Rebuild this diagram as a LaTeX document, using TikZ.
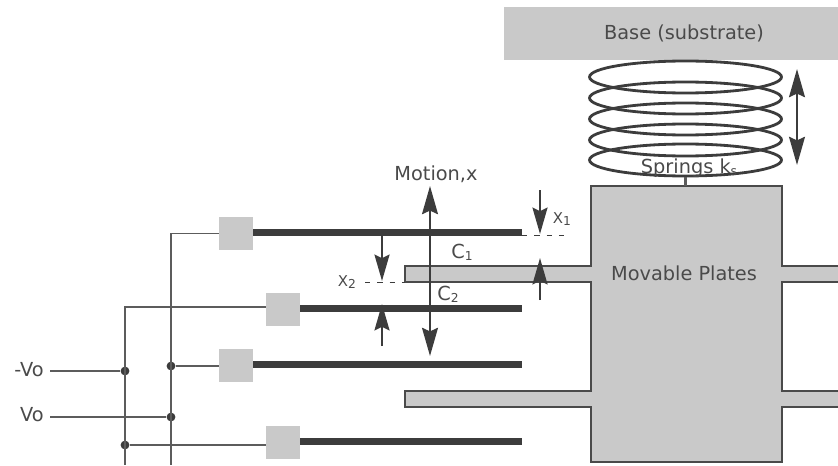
\documentclass[tikz,border=0pt]{standalone}
\usepackage{fontspec}
\setmainfont{DejaVu Sans}
\usetikzlibrary{arrows.meta,shapes.geometric}
\definecolor{ink}{HTML}{4A4A4A}
\definecolor{dark}{HTML}{3C3C3C}
\definecolor{plategray}{HTML}{C9C9C9}
\newcommand{\lowtxt}[1]{\raisebox{-.2ex}{\fontsize{7pt}{8pt}\selectfont #1}}
\tikzset{
 lbl/.style = {text = ink, inner sep = 0pt, font = \fontsize{11pt}{13pt}\selectfont},
 smalllbl/.style = {text = ink, inner sep = 0pt, font = \fontsize{8.5pt}{10pt}\selectfont},
 pad/.style = {fill = plategray, minimum width = .68cm, minimum height = .66cm, inner sep = 0pt},
 plate/.style = {color = dark, line width = 4pt},
 wire/.style = {color = ink!90, line width = .8pt},
 jdot/.style = {circle, fill = dark, minimum size = 5pt, inner sep = 0pt},
 coil/.style = {ellipse, draw = dark, line width = 1.6pt, minimum width = 3.84cm, minimum height = .64cm, inner sep = 0pt},
 motion/.style = {color = dark, line width = 1.5pt, {Stealth[length = 16pt, width = 9pt, inset = 2pt]}-{Stealth[length = 16pt, width = 9pt, inset = 2pt]}},
 gapdown/.style = {color = dark, line width = 1.5pt, -{Stealth[length = 15pt, width = 8.5pt, inset = 2pt]}},
 gapdash/.style = {color = dark, line width = .5pt, dash pattern = on 3pt off 4pt},
}
\begin{document}
\begin{tikzpicture}[x = .02cm, y = -.02cm]
\useasboundingbox (0,0) rectangle (838,466);
% base and springs
\node [fill = plategray, minimum width = 6.68cm, minimum height = 1.06cm, inner sep = 0pt] (base) at (671,33.5) {};
\node [lbl] (baseTxt) at (684,33) {Base (substrate)};
\node [coil] (coilA) at (685.5,77) {};
\node [coil] (coilB) at (685.5,98) {};
\node [coil] (coilC) at (685.5,119) {};
\node [coil] (coilD) at (685.5,140) {};
\node [coil] (coilE) at (685.5,160) {};
\coordinate (travelTop) at (797,69);
\coordinate (travelBot) at (797,165);
\draw [motion] (travelTop) -- (travelBot);
% movable plates
\fill [plategray] (838,266) -- (782,266) -- (782,186) -- (591,186) -- (591,266) -- (405,266) -- (405,282) -- (591,282) -- (591,391) -- (405,391) -- (405,407) -- (591,407) -- (591,462) -- (782,462) -- (782,407) -- (838,407) -- (838,391) -- (782,391) -- (782,282) -- (838,282) -- cycle;
\draw [draw = ink, line width = .8pt] (838,266) -- (782,266) -- (782,186) -- (591,186) -- (591,266) -- (405,266) -- (405,282) -- (591,282) -- (591,391) -- (405,391) -- (405,407) -- (591,407) -- (591,462) -- (782,462) -- (782,407) -- (838,407);
\draw [draw = ink, line width = .8pt] (838,391) -- (782,391) -- (782,282) -- (838,282);
\coordinate (bodyTop) at (685.5,186);
\draw [wire, line width = 1.2pt] (coilE.south) -- (bodyTop);
\node [lbl] (springTxt) at (689,168) {Springs k\lowtxt{s}};
\node [lbl] (bodyTxt) at (684,273) {Movable Plates};
% fixed plates
\node [pad] (padA) at (236,233.5) {};
\node [pad] (padB) at (283,309.5) {};
\node [pad] (padC) at (236,365.5) {};
\node [pad] (padD) at (283,442.5) {};
\coordinate (plateA) at (522,232.5);
\coordinate (plateB) at (522,308.5);
\coordinate (plateC) at (522,364.5);
\coordinate (plateD) at (522,441.5);
\draw [plate] (plateA -| padA.east) -- (plateA);
\draw [plate] (plateB -| padB.east) -- (plateB);
\draw [plate] (plateC -| padC.east) -- (plateC);
\draw [plate] (plateD -| padD.east) -- (plateD);
% wiring
\coordinate (railL) at (125,465);
\coordinate (railR) at (171,465);
\coordinate (wireNeg) at (50,371);
\coordinate (wirePos) at (50,417);
\node [jdot] (jNeg) at (125,371) {};
\node [jdot] (jPos) at (171,417) {};
\node [jdot] (jC) at (171,366) {};
\node [jdot] (jD) at (125,445) {};
\draw [wire] (padA.west) -- (padA.west -| railR) -- (railR);
\draw [wire] (padB.west |- 0,307) -- (railL |- 0,307) -- (railL);
\draw [wire] (wireNeg) -- (jNeg);
\draw [wire] (wirePos) -- (jPos);
\draw [wire] (jC) -- (jC -| padC.west);
\draw [wire] (jD) -- (jD -| padD.west);
\node [lbl, anchor = east] (negTxt) at (44,370) {-Vo};
\node [lbl, anchor = east] (posTxt) at (44,415) {Vo};
% motion and gaps
\coordinate (motionTop) at (430,186);
\coordinate (motionBot) at (430,356);
\draw [motion] (motionTop) -- (motionBot);
\node [lbl] (motionTxt) at (436,174) {Motion,x};
\node [lbl] (gapA) at (462,252) {C\lowtxt{1}};
\node [lbl] (gapB) at (448,294) {C\lowtxt{2}};
\coordinate (xOneTop) at (540,190);
\coordinate (xOneEnd) at (540,234);
\coordinate (xOneLow) at (540,300);
\coordinate (xOneUp) at (540,258);
\coordinate (xTwoTop) at (382,233);
\coordinate (xTwoEnd) at (382,281);
\coordinate (xTwoLow) at (382,346);
\coordinate (xTwoUp) at (382,304);
\draw [gapdown] (xOneTop) -- (xOneEnd);
\draw [gapdown] (xOneLow) -- (xOneUp);
\draw [gapdown] (xTwoTop) -- (xTwoEnd);
\draw [gapdown] (xTwoLow) -- (xTwoUp);
\draw [gapdash] (plateA |- 0,235.5) -- (567,235.5);
\draw [gapdash] (365,282) -- (405,282);
\node [smalllbl] (xOneTxt) at (562,219) {X\lowtxt{1}};
\node [smalllbl] (xTwoTxt) at (347,282) {X\lowtxt{2}};
\end{tikzpicture}
\end{document}
